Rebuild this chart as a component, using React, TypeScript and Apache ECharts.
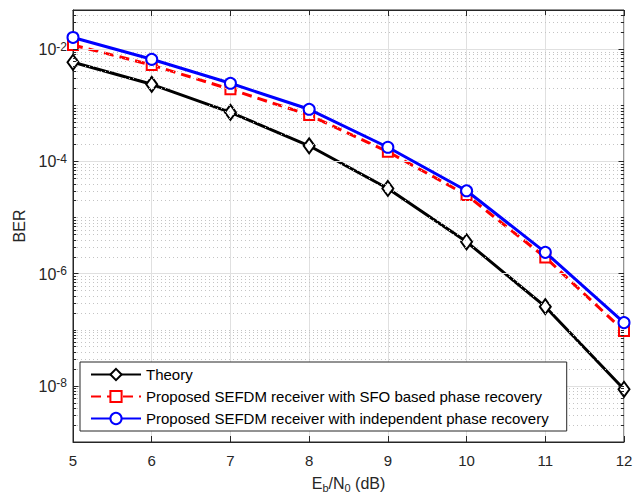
import React, { useEffect, useRef } from 'react';
import * as echarts from 'echarts';

// ---- data ----
const snrDb = [5, 6, 7, 8, 9, 10, 11, 12];
const theoryBer = [5.85e-3, 2.37e-3, 7.5e-4, 1.9e-4, 3.3e-5, 3.7e-6, 2.58e-7, 8.7e-9];
const sfoBer = [1.19e-2, 5.23e-3, 1.93e-3, 6.73e-4, 1.49e-4, 2.52e-5, 1.95e-6, 9.5e-8];
const indepBer = [1.62e-2, 6.61e-3, 2.47e-3, 8.5e-4, 1.79e-4, 3.0e-5, 2.4e-6, 1.34e-7];
const seriesNames = [
  'Theory',
  'Proposed SEFDM receiver with SFO based phase recovery',
  'Proposed SEFDM receiver with independent phase recovery',
];
const yMin = 1e-9;
const yMax = 5e-2;
const xMin = 5;
const xMax = 12;
const labelledExps = [-8, -6, -4, -2];
const allExps = [-9, -8, -7, -6, -5, -4, -3, -2];
const minorMultipliers = [2, 3, 4, 5, 6, 7, 8, 9];

const FONT = 'Liberation Sans, Arial, Helvetica, sans-serif';
const AXIS_COLOR = '#262626';

function buildHelperMarkLines() {
  const out: any[] = [];
  const minorVals: number[] = [];
  allExps.forEach((e) => {
    const dec = Math.pow(10, e);
    if (!labelledExps.includes(e) && e !== -9) minorVals.push(dec);
    minorMultipliers.forEach((m) => {
      const v = m * dec;
      if (v < yMax * 0.999) minorVals.push(v);
    });
  });
  const majorVals = labelledExps.map((e) => Math.pow(10, e));
  // grid lines
  minorVals.forEach((v) => {
    out.push({ yAxis: v, lineStyle: { color: '#c4c4c4', type: [1, 3], width: 1 } });
  });
  majorVals.forEach((v) => {
    out.push({ yAxis: v, lineStyle: { color: '#e0e0e0', type: 'solid', width: 1 } });
  });
  // tick marks (inside, left and right)
  const major = 0.07;
  const minor = 0.04;
  const tickStyle = { color: AXIS_COLOR, type: 'solid', width: 1 };
  majorVals.forEach((v) => {
    out.push([{ coord: [xMin, v], lineStyle: tickStyle }, { coord: [xMin + major, v] }]);
    out.push([{ coord: [xMax - major, v], lineStyle: tickStyle }, { coord: [xMax, v] }]);
  });
  minorVals.forEach((v) => {
    out.push([{ coord: [xMin, v], lineStyle: tickStyle }, { coord: [xMin + minor, v] }]);
    out.push([{ coord: [xMax - minor, v], lineStyle: tickStyle }, { coord: [xMax, v] }]);
  });
  return out;
}

function pairs(ys: number[]) {
  return snrDb.map((x, i) => [x, ys[i]]);
}

export default function App() {
  const ref = useRef<HTMLDivElement>(null);
  useEffect(() => {
    if (!ref.current) return;
    const chart = echarts.init(ref.current, undefined, { renderer: 'svg' });
    const option: any = {
      animation: false,
      backgroundColor: '#fff',
      textStyle: { fontFamily: FONT },
      grid: {
        left: 73,
        right: 10,
        top: 10,
        bottom: 60,
        show: true,
        borderColor: AXIS_COLOR,
        borderWidth: 1,
        backgroundColor: 'transparent',
        containLabel: false,
        outerBoundsMode: 'none',
      },
      legend: {
        orient: 'vertical',
        left: 80,
        top: 362,
        itemWidth: 50,
        itemHeight: 14,
        itemGap: 7,
        padding: [5, 18, 5, 10],
        borderColor: AXIS_COLOR,
        borderWidth: 1,
        borderRadius: 0,
        backgroundColor: '#fff',
        textStyle: { fontSize: 15, color: '#000', fontFamily: FONT },
        data: seriesNames,
        selectedMode: false,
        z: 10,
      },
      xAxis: [
        {
          type: 'value',
          min: xMin,
          max: xMax,
          interval: 1,
          position: 'bottom',
          axisLine: { show: true, lineStyle: { color: AXIS_COLOR, width: 1 } },
          axisTick: { show: true, inside: true, length: 6, lineStyle: { color: AXIS_COLOR } },
          axisLabel: { fontSize: 15, color: AXIS_COLOR, margin: 11, fontFamily: FONT },
          splitLine: { show: true, lineStyle: { color: '#e0e0e0', width: 1 } },
          name: '{b|E}{s|b}{b|/N}{s|0}{b| (dB)}',
          nameLocation: 'middle',
          nameGap: 33,
          nameTextStyle: {
            fontFamily: FONT,
            color: AXIS_COLOR,
            rich: {
              b: { fontSize: 16, lineHeight: 18, verticalAlign: 'top', color: AXIS_COLOR, fontFamily: FONT },
              s: { fontSize: 11, lineHeight: 11, padding: [10, 0, 0, 0], verticalAlign: 'bottom', color: AXIS_COLOR, fontFamily: FONT },
            },
          },
        },
        {
          type: 'value',
          min: xMin,
          max: xMax,
          interval: 1,
          position: 'top',
          axisLine: { show: true, lineStyle: { color: AXIS_COLOR, width: 1 } },
          axisTick: { show: true, inside: true, length: 6, lineStyle: { color: AXIS_COLOR } },
          axisLabel: { show: false },
          splitLine: { show: false },
        },
      ],
      yAxis: {
        type: 'log',
        logBase: 10,
        min: yMin,
        max: yMax,
        axisLine: { show: true, lineStyle: { color: AXIS_COLOR, width: 1 } },
        axisTick: { show: false },
        splitLine: { show: false },
        axisLabel: {
          margin: 6,
          color: AXIS_COLOR,
          fontFamily: FONT,
          formatter: (v: number) => {
            const e = Math.log10(v);
            const r = Math.round(e);
            if (Math.abs(e - r) > 1e-6) return '';
            if (!labelledExps.includes(r)) return '';
            return '{b|10}{s|' + r + '}';
          },
          rich: {
            b: { fontSize: 16, lineHeight: 17, padding: [6, 0, 0, 0], verticalAlign: 'bottom', color: AXIS_COLOR, fontFamily: FONT },
            s: { fontSize: 12, lineHeight: 13, verticalAlign: 'top', color: AXIS_COLOR, fontFamily: FONT },
          },
        },
        name: 'BER',
        nameLocation: 'middle',
        nameGap: 46,
        nameTextStyle: { fontSize: 16, color: AXIS_COLOR, fontFamily: FONT },
      },
      series: [
        {
          name: '__grid',
          type: 'line',
          data: [],
          z: 1,
          silent: true,
          markLine: {
            silent: true,
            precision: 15,
            symbol: ['none', 'none'],
            label: { show: false },
            animation: false,
            emphasis: { disabled: true },
            data: buildHelperMarkLines(),
          },
        },
        {
          name: seriesNames[0],
          type: 'line',
          data: pairs(theoryBer),
          z: 3,
          color: '#000000',
          symbol: 'emptyDiamond',
          symbolSize: [11, 15],
          lineStyle: { color: '#000000', width: 3 },
          itemStyle: { color: '#000000', borderWidth: 3 },
        },
        {
          name: seriesNames[1],
          type: 'line',
          data: pairs(sfoBer),
          z: 4,
          color: '#ff0000',
          symbol: 'emptyRect',
          symbolSize: 10,
          lineStyle: { color: '#ff0000', width: 3, type: [10, 6] },
          itemStyle: { color: '#ff0000', borderWidth: 3 },
        },
        {
          name: seriesNames[2],
          type: 'line',
          data: pairs(indepBer),
          z: 5,
          color: '#0000ff',
          symbol: 'emptyCircle',
          symbolSize: 11,
          lineStyle: { color: '#0000ff', width: 3 },
          itemStyle: { color: '#0000ff', borderWidth: 3 },
        },
      ],
    };
    chart.setOption(option);
    return () => chart.dispose();
  }, []);
  return (
    <div
      ref={ref}
      style={{ position: 'fixed', left: 0, top: 0, width: 634, height: 502, background: '#fff' }}
    />
  );
}
